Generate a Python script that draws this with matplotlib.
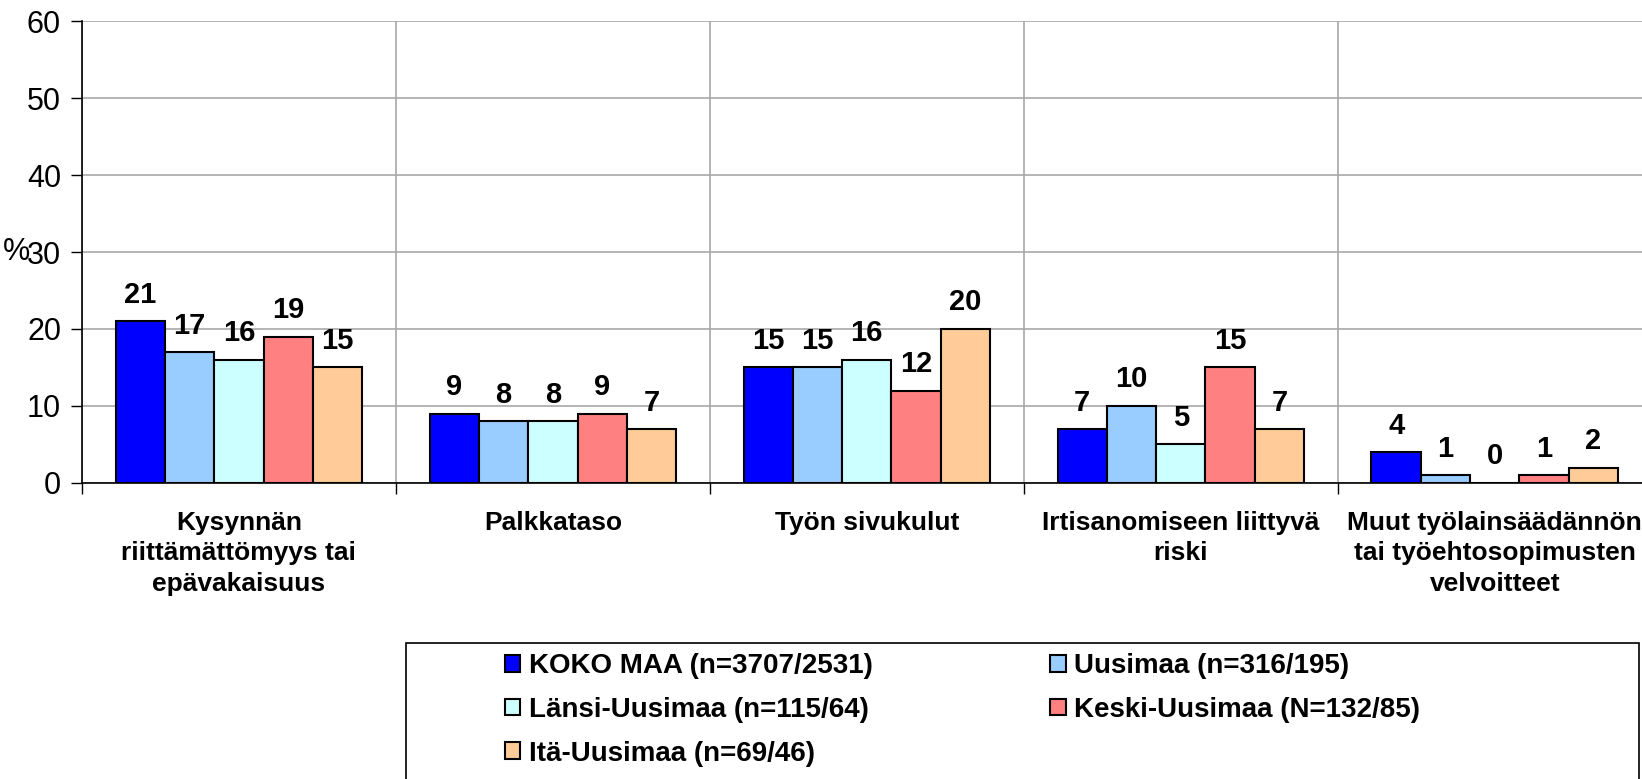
import matplotlib.pyplot as plt
from matplotlib.patches import Rectangle
import numpy as np

plt.rcParams['font.family'] = ['Liberation Sans', 'DejaVu Sans']

kategoriat = ['Kysynnän\nriittämättömyys tai\nepävakaisuus',
              'Palkkataso',
              'Työn sivukulut',
              'Irtisanomiseen liittyvä\nriski',
              'Muut työlainsäädännön\ntai työehtosopimusten\nvelvoitteet']
alueet = ['KOKO MAA (n=3707/2531)', 'Uusimaa (n=316/195)', 'Länsi-Uusimaa (n=115/64)',
          'Keski-Uusimaa (N=132/85)', 'Itä-Uusimaa (n=69/46)']
koko_maa = [21, 9, 15, 7, 4]
uusimaa = [17, 8, 15, 10, 1]
lansi_uusimaa = [16, 8, 16, 5, 0]
keski_uusimaa = [19, 9, 12, 15, 1]
ita_uusimaa = [15, 7, 20, 7, 2]
varit = ['#0000FF', '#99CCFF', '#CCFFFF', '#FF8080', '#FFCC99']

sarjat = [koko_maa, uusimaa, lansi_uusimaa, keski_uusimaa, ita_uusimaa]

fig = plt.figure(figsize=(16.42, 7.79), dpi=100)
ax = fig.add_axes([0.0499, 0.38, 0.956, 0.593])

x = np.arange(len(kategoriat))
leveys = 0.157
palkit = []
for i, (arvot, vari) in enumerate(zip(sarjat, varit)):
    b = ax.bar(x + (i - 2) * leveys, arvot, leveys, color=vari, edgecolor='black',
               linewidth=1.5, zorder=3, label=alueet[i])
    palkit.append(b)
    for xi, v in zip(x + (i - 2) * leveys, arvot):
        ax.annotate(str(v), (xi, v), xytext=(0, 9), textcoords='offset points',
                    ha='center', va='bottom', fontsize=21, fontweight='bold')

ax.set_xlim(-0.5, 4.5)
ax.set_ylim(0, 60)
ax.set_yticks(range(0, 61, 10))
ax.tick_params(axis='y', labelsize=22, length=8, width=1, direction='out', pad=7)
ax.set_xticks(x)
ax.set_xticklabels(kategoriat, fontsize=19, fontweight='bold', linespacing=1.35)
ax.tick_params(axis='x', which='major', length=0, pad=20)
ax.set_xticks(np.arange(-0.5, 5, 1), minor=True)
ax.tick_params(axis='x', which='minor', length=8, width=1)
ax.grid(axis='y', which='major', color='#a8a8a8', linewidth=1.2, zorder=0)
ax.grid(axis='x', which='minor', color='#a8a8a8', linewidth=1.2, zorder=0)
ax.set_axisbelow(True)
for s in ['top', 'right']:
    ax.spines[s].set_visible(False)
ax.spines['left'].set_linewidth(1.2)
ax.spines['bottom'].set_linewidth(1.2)

ax.set_ylabel('%', fontsize=22, rotation=0, va='center', ha='center')
ax.yaxis.set_label_coords(-0.042, 0.5)

# legendan kehys
fig.patches.append(Rectangle((406 / 1642, -0.05), (1639 - 406) / 1642, 1 - 643 / 779 + 0.05,
                             transform=fig.transFigure, facecolor='white',
                             edgecolor='black', linewidth=1.2))
jarj = [0, 2, 4, 1, 3]
leg = fig.legend([palkit[j] for j in jarj], [alueet[j] for j in jarj], ncol=2,
                 loc='upper left', bbox_to_anchor=(505 / 1642, 1 - 653 / 779),
                 frameon=False, prop={'size': 20, 'weight': 'bold'},
                 handlelength=0.55, handleheight=0.55, handletextpad=0.3,
                 labelspacing=0.64, columnspacing=6.4, borderaxespad=0, borderpad=0)

fig.savefig('out.png', dpi=100)
